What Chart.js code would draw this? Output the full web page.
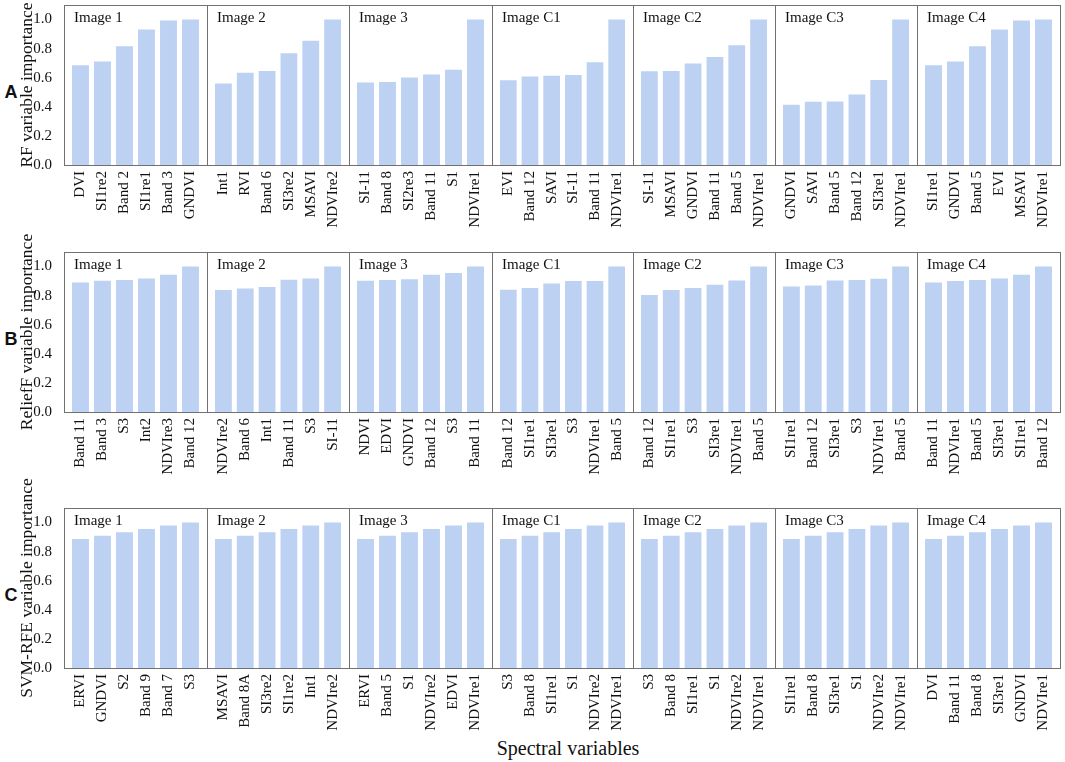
<!DOCTYPE html>
<html>
<head>
<meta charset="utf-8">
<script src="https://cdn.jsdelivr.net/npm/chart.js@4.4.1/dist/chart.umd.min.js"></script>
<style>
  body { margin: 0; background: #fff; }
  #wrap { position: relative; width: 1065px; height: 762px; overflow: hidden; }
  #wrap canvas { position: absolute; }
  .tag { position: absolute; transform: translate(-50%, -50%); font: bold 18px "Liberation Sans", Arial, sans-serif; color: #111; }
  #xtitle { position: absolute; left: 568px; top: 748px; transform: translate(-50%, -50%); font: 20px "Liberation Serif", "Times New Roman", serif; color: #111; white-space: nowrap; }
</style>
</head>
<body>
<div id="wrap">
  <div id="xtitle">Spectral variables</div>
</div>
<script>
const panelTitles = ['Image 1', 'Image 2', 'Image 3', 'Image C1', 'Image C2', 'Image C3', 'Image C4'];
const rowTags = ['A', 'B', 'C'];
const yTitles = ['RF variable importance', 'ReliefF variable importance', 'SVM-RFE variable importance'];
const yTicks = [0, 0.2, 0.4, 0.6, 0.8, 1.0];

// RF
const rfLabels = [
    ['DVI', 'SI1re2', 'Band 2', 'SI1re1', 'Band 3', 'GNDVI'],
    ['Int1', 'RVI', 'Band 6', 'SI3re2', 'MSAVI', 'NDVIre2'],
    ['SI-11', 'Band 8', 'SI2re3', 'Band 11', 'S1', 'NDVIre1'],
    ['EVI', 'Band 12', 'SAVI', 'SI-11', 'Band 11', 'NDVIre1'],
    ['SI-11', 'MSAVI', 'GNDVI', 'Band 11', 'Band 5', 'NDVIre1'],
    ['GNDVI', 'SAVI', 'Band 5', 'Band 12', 'SI3re1', 'NDVIre1'],
    ['SI1re1', 'GNDVI', 'Band 5', 'EVI', 'MSAVI', 'NDVIre1']
];
const rfValues = [
    [0.685, 0.712, 0.816, 0.931, 0.993, 1.0],
    [0.561, 0.634, 0.646, 0.768, 0.855, 1.0],
    [0.568, 0.570, 0.602, 0.623, 0.655, 1.0],
    [0.582, 0.609, 0.614, 0.618, 0.706, 1.0],
    [0.644, 0.646, 0.697, 0.743, 0.823, 1.0],
    [0.414, 0.434, 0.437, 0.485, 0.584, 1.0],
    [0.685, 0.712, 0.816, 0.931, 0.993, 1.0]
];

// ReliefF
const reliefLabels = [
    ['Band 11', 'Band 3', 'S3', 'Int2', 'NDVIre3', 'Band 12'],
    ['NDVIre2', 'Band 6', 'Int1', 'Band 11', 'S3', 'SI-11'],
    ['NDVI', 'EDVI', 'GNDVI', 'Band 12', 'S3', 'Band 11'],
    ['Band 12', 'SI1re1', 'SI3re1', 'S3', 'NDVIre1', 'Band 5'],
    ['Band 12', 'SI1re1', 'S3', 'SI3re1', 'NDVIre1', 'Band 5'],
    ['SI1re1', 'Band 12', 'SI3re1', 'S3', 'NDVIre1', 'Band 5'],
    ['Band 11', 'NDVIre1', 'Band 5', 'SI3re1', 'SI1re1', 'Band 12']
];
const reliefValues = [
    [0.890, 0.902, 0.907, 0.918, 0.943, 1.0],
    [0.838, 0.849, 0.859, 0.909, 0.918, 1.0],
    [0.902, 0.907, 0.913, 0.943, 0.955, 1.0],
    [0.840, 0.852, 0.884, 0.900, 0.900, 1.0],
    [0.804, 0.838, 0.852, 0.875, 0.904, 1.0],
    [0.863, 0.870, 0.904, 0.907, 0.916, 1.0],
    [0.890, 0.900, 0.907, 0.918, 0.943, 1.0]
];

// SVM-RFE
const svmLabels = [
    ['ERVI', 'GNDVI', 'S2', 'Band 9', 'Band 7', 'S3'],
    ['MSAVI', 'Band 8A', 'SI3re2', 'SI1re2', 'Int1', 'NDVIre2'],
    ['ERVI', 'Band 5', 'S1', 'NDVIre2', 'EDVI', 'NDVIre1'],
    ['S3', 'Band 8', 'SI1re1', 'S1', 'NDVIre2', 'NDVIre1'],
    ['S3', 'Band 8', 'SI1re1', 'S1', 'NDVIre2', 'NDVIre1'],
    ['SI1re1', 'Band 8', 'SI3re1', 'S1', 'NDVIre2', 'NDVIre1'],
    ['DVI', 'Band 11', 'Band 8', 'SI3re1', 'GNDVI', 'NDVIre1']
];
const svmValues = [
    [0.887, 0.910, 0.933, 0.956, 0.979, 1.0],
    [0.887, 0.910, 0.933, 0.956, 0.979, 1.0],
    [0.887, 0.910, 0.933, 0.956, 0.979, 1.0],
    [0.887, 0.910, 0.933, 0.956, 0.979, 1.0],
    [0.887, 0.910, 0.933, 0.956, 0.979, 1.0],
    [0.887, 0.910, 0.933, 0.956, 0.979, 1.0],
    [0.887, 0.910, 0.933, 0.956, 0.979, 1.0]
];

const rowLabels = [rfLabels, reliefLabels, svmLabels];
const rowValues = [rfValues, reliefValues, svmValues];

// layout (px)
const frameX = [64, 207, 349, 492, 633, 775, 917, 1060];
const frameTop = [5, 252, 508];
const frameH = 160;
const inset = 5.5;
const xAxisH = 80;
const barColor = 'rgb(189, 210, 242)';
const serif = '"Liberation Serif", "Times New Roman", serif';

// panel border + "Image n" caption inside
const framePlugin = {
    id: 'frame',
    afterDatasetsDraw(chart, args, opts) {
        const a = chart.chartArea;
        const ctx = chart.ctx;
        const l = Math.round(a.left - inset) + 0.5;
        const r = Math.round(a.right + inset) + 0.5;
        const t = Math.round(a.top) + 0.5;
        const b = Math.round(a.bottom) + 0.5;
        ctx.save();
        ctx.strokeStyle = '#707070';
        ctx.lineWidth = 1;
        ctx.strokeRect(l, t, r - l, b - t);
        ctx.fillStyle = '#111';
        ctx.font = '15px ' + serif;
        ctx.textBaseline = 'middle';
        ctx.textAlign = 'left';
        ctx.fillText(opts.title, l + 9.5, t + 13);
        ctx.restore();
    }
};

Chart.defaults.font.family = serif;
Chart.defaults.color = '#111';

const wrap = document.getElementById('wrap');

for (let r = 0; r < 3; r++) {
    const tag = document.createElement('div');
    tag.className = 'tag';
    tag.textContent = rowTags[r];
    tag.style.left = '11px';
    tag.style.top = (frameTop[r] + 87) + 'px';
    wrap.appendChild(tag);

    for (let i = 0; i < 7; i++) {
        const first = i === 0;
        // first panel gets room above for the long y title
        const padTop = first ? 40 : 2;
        const left = first ? 0 : frameX[i] - 2;
        const w = frameX[i + 1] + 2 - left;
        const h = frameH + padTop + xAxisH;

        const canvas = document.createElement('canvas');
        canvas.width = w;
        canvas.height = h;
        canvas.style.left = left + 'px';
        canvas.style.top = (frameTop[r] - padTop) + 'px';
        canvas.style.width = w + 'px';
        canvas.style.height = h + 'px';
        wrap.appendChild(canvas);

        const yScale = {
            display: first,
            min: 0,
            max: 1.1,
            grid: { display: false },
            border: { display: false },
            ticks: {
                padding: 4 + inset,
                font: { size: 15 },
                callback: function (v) { return v.toFixed(1); }
            },
            afterBuildTicks: function (s) {
                s.ticks = yTicks.map(v => ({ value: v }));
            },
            title: {
                display: true,
                text: yTitles[r],
                font: { size: 17.5 },
                padding: { top: 17, bottom: 0 }
            }
        };
        if (first) {
            yScale.afterFit = function (s) {
                s.width = frameX[0] + inset;
                s.paddingTop = 0;
                s.paddingBottom = 0;
            };
        }

        new Chart(canvas.getContext('2d'), {
            type: 'bar',
            data: {
                labels: rowLabels[r][i],
                datasets: [{
                    data: rowValues[r][i],
                    backgroundColor: barColor,
                    borderWidth: 0,
                    barPercentage: 0.77,
                    categoryPercentage: 1
                }]
            },
            options: {
                responsive: false,
                animation: false,
                devicePixelRatio: 1,
                layout: {
                    padding: { left: first ? 0 : 2 + inset, right: 2 + inset, top: padTop, bottom: 0 }
                },
                plugins: {
                    legend: { display: false },
                    tooltip: { enabled: false },
                    frame: { title: panelTitles[i] }
                },
                scales: {
                    x: {
                        offset: true,
                        grid: { display: false },
                        border: { display: false },
                        ticks: {
                            autoSkip: false,
                            minRotation: 90,
                            maxRotation: 90,
                            padding: -2,
                            font: { size: 15 }
                        },
                        afterFit: function (s) {
                            s.height = xAxisH;
                            s.paddingLeft = 0;
                            s.paddingRight = 0;
                        }
                    },
                    y: yScale
                }
            },
            plugins: [framePlugin]
        });
    }
}
</script>
</body>
</html>
